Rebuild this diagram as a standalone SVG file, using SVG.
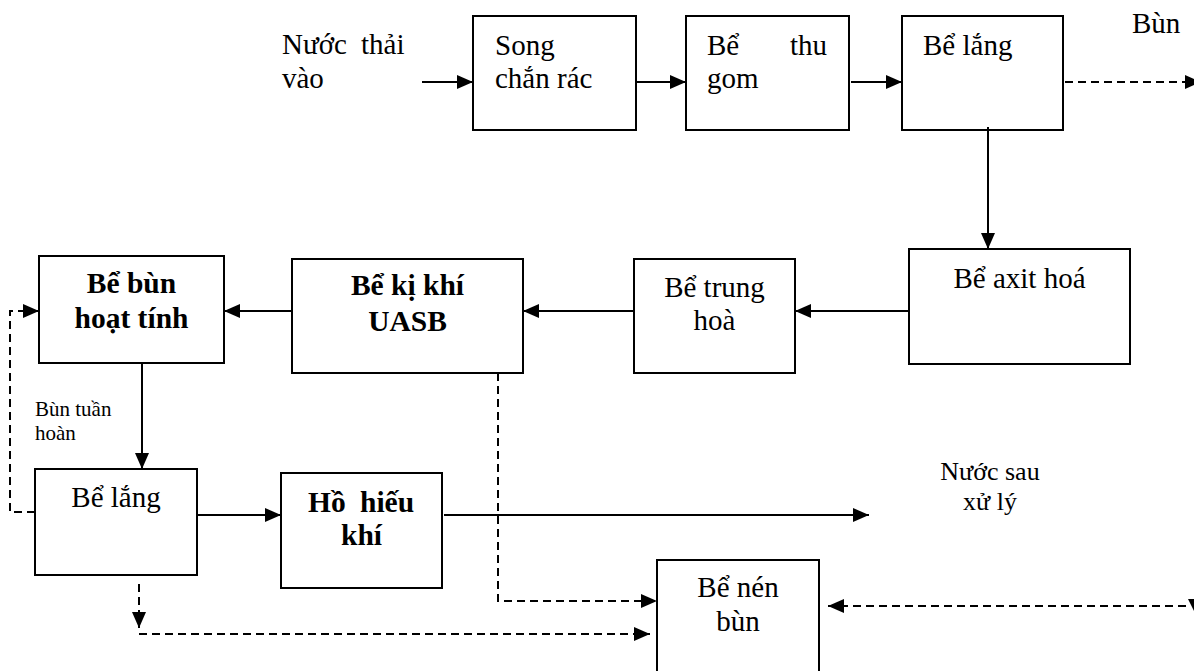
<svg xmlns="http://www.w3.org/2000/svg" width="1194" height="671" viewBox="0 0 1194 671">
  <style>
    .box { fill: #fff; stroke: #000; stroke-width: 2; }
    .t { font-family: "Liberation Serif", "Times New Roman", serif; font-size: 29px; fill: #000; }
    .b { font-weight: bold; font-size: 29.5px; }
    .c { text-anchor: middle; }
    .s { font-size: 21px; }
    .m { font-size: 26px; }
    .ln { fill: none; stroke: #000; stroke-width: 2; }
    .dash { stroke-dasharray: 8 5; }
  </style>
  <defs>
    <marker id="arrow" markerUnits="userSpaceOnUse" viewBox="0 0 16 14" refX="16" refY="7" markerWidth="16" markerHeight="14" orient="auto">
      <path d="M0,0 L16,7 L0,14 Z" fill="#000"/>
    </marker>
  </defs>

  <rect width="1194" height="671" fill="#fff"/>

  <!-- free labels -->
  <g id="label-inflow">
    <text class="t" y="54"><tspan x="282">Nước</tspan><tspan x="361">thải</tspan></text>
    <text class="t" x="282" y="88">vào</text>
  </g>
  <g id="label-sludge">
    <text class="t" x="1132" y="33">Bùn</text>
  </g>
  <g id="label-return">
    <text class="t s" x="35" y="416">Bùn tuần</text>
    <text class="t s" x="35" y="440">hoàn</text>
  </g>
  <g id="label-outflow">
    <text class="t m c" x="990" y="480">Nước sau</text>
    <text class="t m c" x="990" y="510">xử lý</text>
  </g>

  <!-- process units -->
  <g id="song-chan-rac">
    <rect class="box" x="473" y="16" width="163" height="114"/>
    <text class="t" x="495" y="55">Song</text>
    <text class="t" x="495" y="88">chắn rác</text>
  </g>
  <g id="be-thu-gom">
    <rect class="box" x="686" y="16" width="163" height="114"/>
    <text class="t" y="55"><tspan x="707">Bể</tspan><tspan x="790">thu</tspan></text>
    <text class="t" x="707" y="88">gom</text>
  </g>
  <g id="be-lang-1">
    <rect class="box" x="902" y="16" width="161" height="114"/>
    <text class="t" x="923" y="55">Bể lắng</text>
  </g>
  <g id="be-axit-hoa">
    <rect class="box" x="909" y="249" width="221" height="115"/>
    <text class="t c" x="1019.5" y="288">Bể axit hoá</text>
  </g>
  <g id="be-trung-hoa">
    <rect class="box" x="634" y="259" width="161" height="114"/>
    <text class="t c" x="714.5" y="297">Bể trung</text>
    <text class="t c" x="714.5" y="330">hoà</text>
  </g>
  <g id="be-ki-khi-uasb">
    <rect class="box" x="292" y="259" width="231" height="114"/>
    <text class="t b c" x="407.5" y="295">Bể kị khí</text>
    <text class="t b c" x="407.5" y="331">UASB</text>
  </g>
  <g id="be-bun-hoat-tinh">
    <rect class="box" x="39" y="256" width="185" height="107"/>
    <text class="t b c" x="131.5" y="293">Bể bùn</text>
    <text class="t b c" x="131.5" y="328">hoạt tính</text>
  </g>
  <g id="be-lang-2">
    <rect class="box" x="35" y="469" width="162" height="106"/>
    <text class="t c" x="116" y="507">Bể lắng</text>
  </g>
  <g id="ho-hieu-khi">
    <rect class="box" x="281" y="473" width="161" height="115"/>
    <text class="t b" y="512"><tspan x="308">Hồ</tspan><tspan x="360">hiếu</tspan></text>
    <text class="t b c" x="361.5" y="545">khí</text>
  </g>
  <g id="be-nen-bun">
    <rect class="box" x="657" y="560" width="162" height="130"/>
    <text class="t c" x="738" y="597">Bể nén</text>
    <text class="t c" x="738" y="631">bùn</text>
  </g>

  <!-- connectors -->
  <g id="connectors">
    <line class="ln" x1="422" y1="82" x2="473" y2="82" marker-end="url(#arrow)"/>
    <line class="ln" x1="636" y1="82" x2="686" y2="82" marker-end="url(#arrow)"/>
    <line class="ln" x1="851" y1="82" x2="902" y2="82" marker-end="url(#arrow)"/>
    <line class="ln dash" x1="1065" y1="82" x2="1201" y2="82" marker-end="url(#arrow)"/>
    <line class="ln" x1="988" y1="127" x2="988" y2="249" marker-end="url(#arrow)"/>
    <line class="ln" x1="909" y1="311" x2="795" y2="311" marker-end="url(#arrow)"/>
    <line class="ln" x1="634" y1="311" x2="523" y2="311" marker-end="url(#arrow)"/>
    <line class="ln" x1="292" y1="311" x2="224" y2="311" marker-end="url(#arrow)"/>
    <line class="ln" x1="142" y1="363" x2="142" y2="469" marker-end="url(#arrow)"/>
    <path class="ln dash" d="M35,512 H10 V311 H39" marker-end="url(#arrow)"/>
    <line class="ln" x1="197" y1="515" x2="281" y2="515" marker-end="url(#arrow)"/>
    <line class="ln" x1="444" y1="515" x2="869" y2="515" marker-end="url(#arrow)"/>
    <path class="ln dash" d="M498,373 V601 H657" marker-end="url(#arrow)"/>
    <line class="ln dash" x1="139" y1="584" x2="139" y2="628" marker-end="url(#arrow)"/>
    <line class="ln dash" x1="139" y1="634" x2="650" y2="634" marker-end="url(#arrow)"/>
    <line class="ln dash" x1="1186" y1="606" x2="828" y2="606" marker-end="url(#arrow)"/>
    <path d="M1188,599 L1204,599 L1196,615 Z" fill="#000"/>
  </g>
</svg>
